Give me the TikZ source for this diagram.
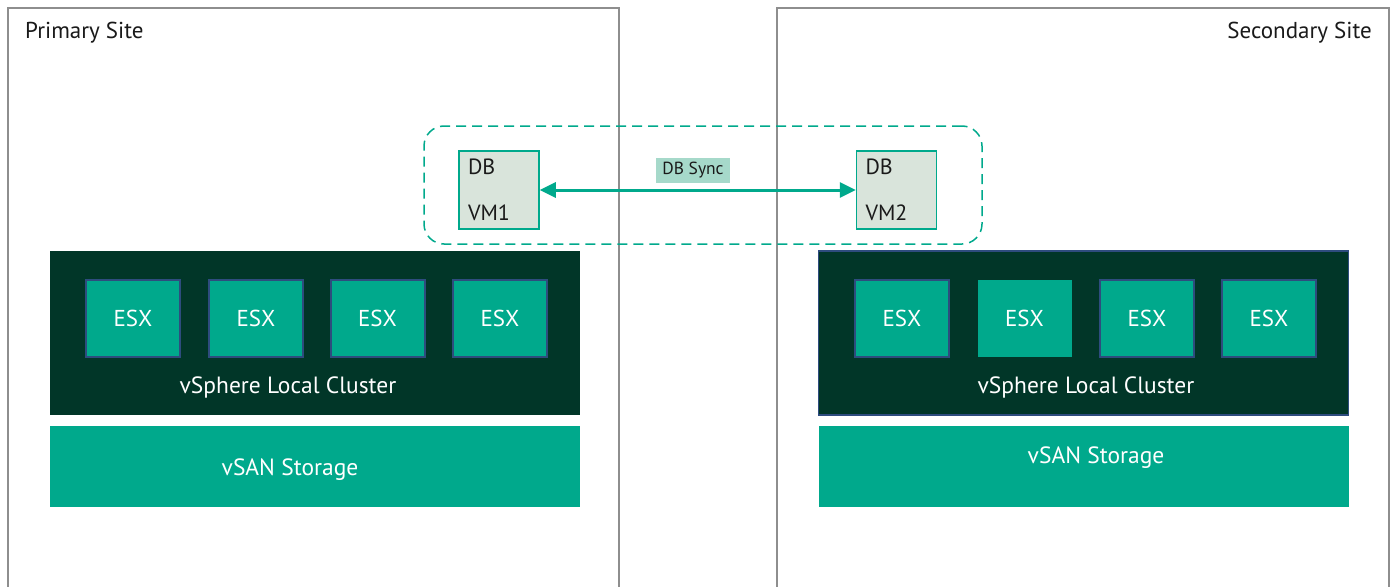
\documentclass[tikz,border=0pt]{standalone}
\usepackage{fontspec}
\setmainfont{PT Sans}
\usetikzlibrary{arrows.meta, positioning}
\definecolor{vteal}{HTML}{00A98C}
\definecolor{clusterdark}{HTML}{013628}
\definecolor{vmfill}{HTML}{D9E4DB}
\definecolor{syncfill}{HTML}{A6D9CA}
\definecolor{esxblue}{HTML}{2E4C7E}
\definecolor{sitegray}{HTML}{8E8E8E}
\definecolor{textdark}{HTML}{1A1A1A}
\tikzset{
  site/.style={draw=sitegray, line width=1.5pt, minimum height=592pt, inner sep=0pt},
  sitetext/.style={text=textdark, font=\fontsize{23}{27}\selectfont, inner sep=0pt},
  dbgroup/.style={draw=vteal, line width=1.5pt, dash pattern=on 10pt off 6pt, rounded corners=20pt, inner sep=0pt},
  vmbox/.style={draw=vteal, fill=vmfill, line width=1.5pt, minimum width=80pt, minimum height=78pt, text width=62pt, align=left, inner sep=0pt, text=textdark, font=\fontsize{22}{26}\selectfont},
  synclabel/.style={fill=syncfill, minimum width=74pt, minimum height=25pt, inner sep=0pt, text=textdark, font=\fontsize{17.5}{20}\selectfont},
  sync/.style={draw=vteal, line width=3pt, {Triangle[length=16pt,width=15pt]}-{Triangle[length=16pt,width=15pt]}},
  cluster/.style={fill=clusterdark, minimum width=530pt, minimum height=164pt, inner sep=0pt},
  esx/.style={fill=vteal, draw=esxblue, line width=2pt, minimum width=94pt, minimum height=77pt, inner sep=0pt, text=white, font=\fontsize{23}{27}\selectfont},
  storage/.style={fill=vteal, minimum width=530pt, minimum height=81pt, inner sep=0pt},
  boxtext/.style={text=white, inner sep=0pt, font=\fontsize{23.5}{28}\selectfont}
}

\begin{document}
\begin{tikzpicture}[x=1pt, y=-1pt]
    \useasboundingbox (0,0) rectangle (1394,586);
    \clip (0,0) rectangle (1394,586);
    \fill[white] (0,0) rectangle (1394,586);

    \node (primary) at(313.5,304) [site, minimum width=611pt] {};
    \node (secondary) at(1083,304) [site, minimum width=612pt] {};
    \node (primary title) at(25,32.5) [sitetext, anchor=west] {Primary Site};
    \node (secondary title) at(1372,32.5) [sitetext, anchor=east] {Secondary Site};

    \node (db group) at(703,185) [dbgroup, minimum width=558pt, minimum height=118pt] {};
    \node (vm 1) at(499,190) [vmbox] {DB\\[20pt]VM1};
    \node (vm 2) at(896.5,190) [vmbox] {DB\\[20pt]VM2};
    \node (db sync) at(693,170.5) [synclabel] {DB Sync};
    \path (vm 1.east) edge[sync] (vm 2.west);

    \node (cluster 1) at(315,333) [cluster] {};
    \node (esx 11) at(133,318) [esx] {\raisebox{-2pt}{ESX}};
    \node (esx 12) at(256,318) [esx] {\raisebox{-2pt}{ESX}};
    \node (esx 13) at(377.5,318) [esx] {\raisebox{-2pt}{ESX}};
    \node (esx 14) at(500,318) [esx] {\raisebox{-2pt}{ESX}};
    \node (cluster 1 name) at(288,387.5) [boxtext] {vSphere Local Cluster};
    \node (storage 1) at(315,466.5) [storage] {};
    \node (storage 1 name) at(290,470) [boxtext] {vSAN Storage};

    \node (cluster 2) at(1083.5,333) [cluster, draw=esxblue, line width=1.5pt] {};
    \node (esx 21) at(902,318) [esx] {\raisebox{-2pt}{ESX}};
    \node (esx 22) at(1024.5,318) [esx, draw=none] {\raisebox{-2pt}{ESX}};
    \node (esx 23) at(1147,318) [esx] {\raisebox{-2pt}{ESX}};
    \node (esx 24) at(1269,318) [esx] {\raisebox{-2pt}{ESX}};
    \node (cluster 2 name) at(1086,387.5) [boxtext] {vSphere Local Cluster};
    \node (storage 2) at(1083.5,466.5) [storage] {};
    \node (storage 2 name) at(1096,458) [boxtext] {vSAN Storage};
\end{tikzpicture}
\end{document}
